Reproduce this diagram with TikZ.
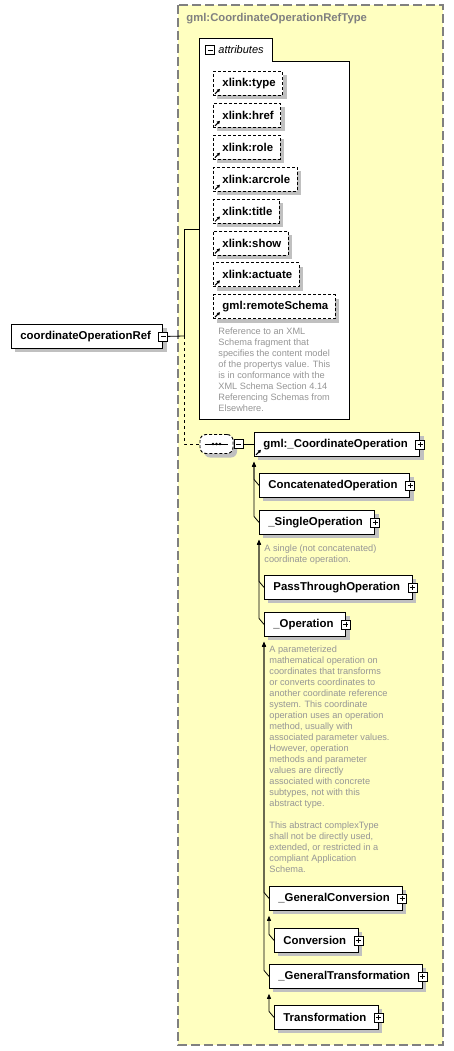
\documentclass[tikz,border=0pt]{standalone}
\usepackage{fontspec}
\setmainfont{Liberation Sans}
\usetikzlibrary{positioning,calc,shadows,arrows.meta}
\definecolor{xsYellow}{RGB}{255,255,192}
\definecolor{xsShadow}{RGB}{192,192,192}
\definecolor{xsFrame}{RGB}{128,128,128}
\definecolor{xsNote}{RGB}{150,150,150}
\newcommand{\refmark}[1]{\draw[-{Triangle[length=3pt,width=3.2pt]}, line width=1pt] ($(#1.south west)+(2,-2)$) -- ++(5,-5);}

\begin{document}
\begin{tikzpicture}[x=1pt, y=-1pt, line width=0.8pt,
    box/.style={rectangle, draw, fill=white, anchor=north west, minimum height=24pt, inner xsep=0pt, inner ysep=0pt,
        font=\fontsize{11.4}{13}\selectfont\bfseries,
        drop shadow={shadow xshift=4pt, shadow yshift=-4pt, fill=xsShadow, opacity=1}},
    elem/.style={box, execute at begin node={\hspace*{9pt}}, execute at end node={\hspace*{12pt}}},
    attr/.style={box, line width=0.9pt, dash pattern=on 3pt off 2pt, execute at begin node={\hspace*{9pt}}, execute at end node={\hspace*{7pt}}},
    pm/.style={rectangle, draw, fill=white, minimum size=9pt, inner sep=0pt, line width=0.7pt},
    plusbox/.style={pm, path picture={\draw[line width=0.7pt] ([xshift=2pt]path picture bounding box.west) -- ([xshift=-2pt]path picture bounding box.east)
        ([yshift=-2pt]path picture bounding box.north) -- ([yshift=2pt]path picture bounding box.south);}},
    minusbox/.style={pm, path picture={\draw[line width=0.7pt] ([xshift=2pt]path picture bounding box.west) -- ([xshift=-2pt]path picture bounding box.east);}},
    seqbox/.style={rectangle, rounded corners=6pt, draw, line width=0.9pt, dash pattern=on 3pt off 2pt, fill=white, minimum width=33pt, minimum height=19pt, inner sep=0pt,
        drop shadow={shadow xshift=4pt, shadow yshift=-4pt, fill=xsShadow, opacity=1}},
    note/.style={anchor=north west, inner sep=0pt, align=left, text=xsNote, font=\fontsize{9.2}{11}\selectfont},
    inh/.style={-{Triangle[width=4pt,length=5pt]}, line width=0.8pt}
]
    \useasboundingbox (0,0) rectangle (453,1051);

    % Complex type frame
    \draw[xsFrame, fill=xsYellow, line width=1.2pt, dash pattern=on 9pt off 4pt] (178,5) rectangle (443,1045);
    \node[anchor=west, inner sep=0pt, text=xsFrame, font=\fontsize{11.3}{13}\selectfont\bfseries] (title) at (186,19) {gml:CoordinateOperationRefType};

    % Attributes group
    \node[anchor=north west, inner sep=0pt, minimum width=150pt, minimum height=381pt] (attrs) at (199,38) {};
    \draw[fill=white] (attrs.south west) -- (attrs.north west) -- ++(73,0) -- ++(0,23) -- ($(attrs.north east)+(0,23)$) -- (attrs.south east) -- cycle;
    \node[minusbox] (attrm) at (210,50) {};
    \node[anchor=west, inner sep=0pt, font=\fontsize{11}{13}\selectfont\itshape] (attrlbl) at (218,50) {attributes};

    \node[attr] (type) at (213,71) {xlink:type};
    \node[attr, below=7pt of type.south west, anchor=north west] (href) {xlink:href};
    \node[attr, below=7pt of href.south west, anchor=north west] (role) {xlink:role};
    \node[attr, below=7pt of role.south west, anchor=north west] (arcrole) {xlink:arcrole};
    \node[attr, below=7pt of arcrole.south west, anchor=north west] (ttl) {xlink:title};
    \node[attr, below=7pt of ttl.south west, anchor=north west] (show) {xlink:show};
    \node[attr, below=7pt of show.south west, anchor=north west] (actuate) {xlink:actuate};
    \node[attr, below=7pt of actuate.south west, anchor=north west] (remote) {gml:remoteSchema};
    \foreach \a in {type,href,role,arcrole,ttl,show,actuate,remote} {\refmark{\a}}

    \node[note] (remotenote) at (218,327.5) {Reference to an XML\\Schema fragment that\\specifies the content model\\of the propertys value. This\\is in conformance with the\\XML Schema Section 4.14\\Referencing Schemas from\\Elsewhere.};

    % Element
    \node[elem] (ref) at (11,324) {coordinateOperationRef};
    \node[minusbox] (refm) at (ref.east) {};
    \coordinate (fork) at (184,336);
    \draw (refm.east) -- (fork);
    \draw (fork) |- (attrs.west);

    % Sequence
    \node[seqbox] (seq) at (216.5,444) {};
    \draw ([xshift=5pt]seq.west) -- ([xshift=-5pt]seq.east);
    \foreach \dx in {-3.5,0,3.5} \fill ([xshift=\dx pt]seq.center) circle (1.3pt);
    \node[minusbox] (seqm) at (238.5,444) {};
    \draw[dashed] (fork) |- (seq.west);

    % Substitution group
    \node[elem] (gml) at (254,432) {gml:\_CoordinateOperation};
    \refmark{gml}
    \node[elem] (cop) at (259,473) {ConcatenatedOperation};
    \node[elem] (sop) at (259,510) {\_SingleOperation};
    \node[note] (sopnote) at (264,544) {A single (not concatenated)\\coordinate operation.};
    \node[elem] (pto) at (264,575) {PassThroughOperation};
    \node[elem] (op) at (264,612) {\_Operation};
    \node[note] (opnote) at (269,645.5) {A parameterized\\mathematical operation on\\coordinates that transforms\\or converts coordinates to\\another coordinate reference\\system. This coordinate\\operation uses an operation\\method, usually with\\associated parameter values.\\However, operation\\methods and parameter\\values are directly\\associated with concrete\\subtypes, not with this\\abstract type.\\[11pt]This abstract complexType\\shall not be directly used,\\extended, or restricted in a\\compliant Application\\Schema.};
    \node[elem] (gconv) at (269,886) {\_GeneralConversion};
    \node[elem] (conv) at (274,928) {Conversion};
    \node[elem] (gtrans) at (269,964) {\_GeneralTransformation};
    \node[elem] (trans) at (274,1005) {Transformation};
    \foreach \e in {gml,cop,sop,pto,op,gconv,conv,gtrans,trans} {\node[plusbox] at (\e.east) {};}

    \draw (seqm.east) -- (seqm.east -| gml.west);

    % Derivation
    \draw[inh] (cop.west) -- ++(-5,-6) -- ($(gml.south west)+(0,5)$);
    \draw[inh] (sop.west) -- ++(-5,-6) -- ($(gml.south west)+(0,5)$);
    \draw[inh] (pto.west) -- ++(-5,-6) -- ($(sop.south west)+(0,5)$);
    \draw[inh] (op.west) -- ++(-5,-6) -- ($(sop.south west)+(0,5)$);
    \draw[inh] (gconv.west) -- ++(-5,-6) -- ($(op.south west)+(0,5)$);
    \draw[inh] (gtrans.west) -- ++(-5,-6) -- ($(op.south west)+(0,5)$);
    \draw[inh] (conv.west) -- ++(-5,-6) -- ($(gconv.south west)+(0,5)$);
    \draw[inh] (trans.west) -- ++(-5,-6) -- ($(gtrans.south west)+(0,5)$);
\end{tikzpicture}
\end{document}
